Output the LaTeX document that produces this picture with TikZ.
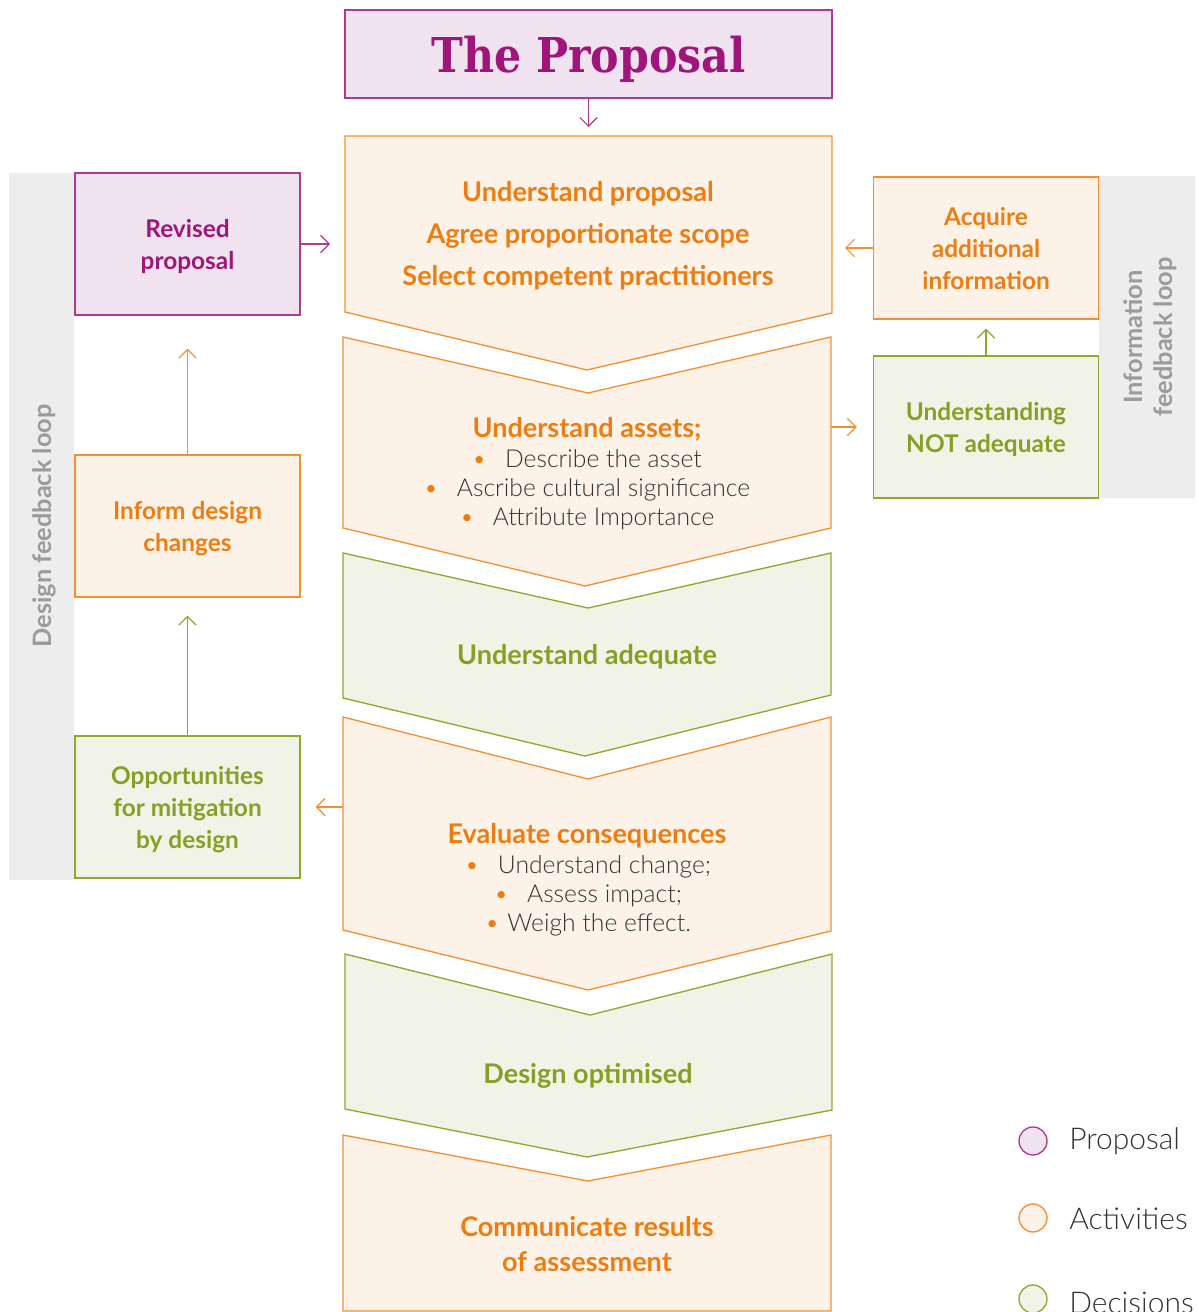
\documentclass[tikz,border=0pt]{standalone}
\usepackage{fontspec}
\setmainfont{Lato}
\newfontfamily\lightfont{Lato Light}
\newfontfamily\slabfont[FakeStretch=0.89]{DejaVu Serif}
\usetikzlibrary{arrows.meta,positioning}

\definecolor{purpline}{HTML}{AD3D8C}
\definecolor{purptext}{HTML}{A0157A}
\definecolor{purpfill}{HTML}{F0E2EF}
\definecolor{orngline}{HTML}{F39034}
\definecolor{orngtext}{HTML}{EE7D11}
\definecolor{orngfill}{HTML}{FDF2E7}
\definecolor{grnline}{HTML}{8DAA2E}
\definecolor{grntext}{HTML}{85A024}
\definecolor{grnfill}{HTML}{F1F3E7}
\definecolor{bandgrey}{HTML}{EDEDED}
\definecolor{loopgrey}{HTML}{9B9B9B}
\definecolor{bodytext}{HTML}{333333}

\begin{document}
\begin{tikzpicture}[x=0.75pt, y=-0.75pt,
	arr/.style={-{Straight Barb[length=6.5pt,width=13pt]}, line width=0.9pt},
	box/.style={line width=1pt, minimum width=168.75pt, minimum height=106.5pt,
		align=center, text depth=0pt, font=\boxfont},
	pbox/.style={box, draw=purpline, fill=purpfill, text=purptext},
	obox/.style={box, draw=orngline, fill=orngfill, text=orngtext},
	gbox/.style={box, draw=grnline, fill=grnfill, text=grntext},
	ochev/.style={draw=orngline, fill=orngfill, line width=1pt},
	gchev/.style={draw=grnline, fill=grnfill, line width=1pt},
	title/.style={font=\chevfont, align=center, inner sep=0pt},
	bullets/.style={font=\bulletfont, text=bodytext, align=center, inner sep=0pt, text depth=0pt},
	looptext/.style={font=\loopfont, text=loopgrey, rotate=90, align=center, inner sep=0pt, text depth=0pt},
	legdot/.style={circle, line width=1pt, minimum size=21pt, inner sep=0pt},
	legtext/.style={font=\legfont, text=bodytext, anchor=base west, inner sep=0pt},
]

% parameters %{{{2

	\def\boxfont{\bfseries\fontsize{18.3}{24}\selectfont}
	\def\chevfont{\bfseries\fontsize{20.3}{31.5}\selectfont}
	\def\bulletfont{\lightfont\fontsize{18.5}{21.75}\selectfont}
	\def\loopfont{\bfseries\fontsize{19}{22.5}\selectfont}
	\def\legfont{\lightfont\fontsize{22.5}{26}\selectfont}
	\def\bul{{\color{orngtext}\textbullet}}

	\useasboundingbox (0,0) rectangle (1198,1312);

% feedback bands %{{{2

	\fill[bandgrey] (9,173) rectangle (74,880);
	\fill[bandgrey] (1099,176) rectangle (1195,498);

% chevrons %{{{2

	\draw[ochev] (345,136) -- (832,136) -- (832,313) -- (587,370) -- (345,312) -- cycle;
	\draw[ochev] (343,337) -- (588,393) -- (831,337) -- (831,528) -- (585,586) -- (343,528) -- cycle;
	\draw[gchev] (343,553) -- (588,608) -- (831,553) -- (831,695) -- (585,756) -- (343,698) -- cycle;
	\draw[ochev] (343,717) -- (588,779) -- (831,717) -- (831,931) -- (588,990) -- (343,930) -- cycle;
	\draw[gchev] (345,954) -- (590,1015) -- (832,954) -- (832,1110) -- (587,1157) -- (345,1109) -- cycle;
	\draw[ochev] (343,1135) -- (588,1181) -- (831,1135) -- (831,1311) -- (343,1311) -- cycle;

% chevron edge points %{{{2

	\coordinate (c1n) at (588.5,136);
	\coordinate (c1w) at (345,244);
	\coordinate (c1e) at (832,248);
	\coordinate (c2e) at (831,427);
	\coordinate (c4w) at (343,807);

% boxes %{{{2

	\node[pbox, minimum width=365.25pt, minimum height=66pt,
		font=\slabfont\bfseries\fontsize{36}{40}\selectfont] (proposal) at (588.5,54) {The Proposal};

	\node[pbox] (rev) at (187.5,244) {Revised\\proposal};
	\node[obox] (inform) at (187.5,526) {Inform design\\changes};
	\node[gbox] (opp) at (187.5,807) {Opportunities\\for mitigation\\by design};

	\node[obox] (acq) at (986,248) {Acquire\\additional\\information};
	\node[gbox] (nadq) at (986,427) {Understanding\\NOT adequate};

% chevron texts %{{{2

	\node[title, text=orngtext, text depth=0pt] (scope) at (588,233)
		{Understand proposal\\Agree proportionate scope\\Select competent practitioners};

	\node[title, text=orngtext, anchor=base] (assets) at (587,437) {Understand assets;};
	\node[bullets] (assetlist) at (587,488)
		{\bul\hspace{14pt}Describe the asset\\
		 \bul\hspace{14pt}Ascribe cultural significance\\
		 \bul\hspace{14pt}Attribute Importance};

	\node[title, text=grntext, anchor=base] (adequate) at (587,664) {Understand adequate};

	\node[title, text=orngtext, anchor=base] (consequences) at (587,843) {Evaluate consequences};
	\node[bullets] (changelist) at (588,893.5)
		{\bul\hspace{14pt}Understand change;\\
		 \bul\hspace{14pt}Assess impact;\\
		 \bul\hspace{6pt}Weigh the effect.};

	\node[title, text=grntext, anchor=base] (optimised) at (588,1083) {Design optimised};

	\node[title, text=orngtext, text depth=0pt, font=\bfseries\fontsize{20.3}{26}\selectfont]
		(communicate) at (587,1244) {Communicate results\\of assessment};

% loop labels %{{{2

	\node[looptext] (designloop) at (42,526) {Design feedback loop};
	\node[looptext] (infoloop) at (1148,337) {Information\\feedback loop};

% connectors %{{{2

	\draw[arr, purpline, shorten >=6.75pt] (proposal.south) -- (c1n);
	\draw[arr, purpline, shorten >=11.25pt] (rev.east) -- (c1w);
	\draw[arr, orngline, shorten >=9.75pt] (acq.west) -- (c1e);
	\draw[arr, orngline, shorten >=12pt] (c2e) -- (nadq.west);
	\draw[arr, grnline, shorten >=6.75pt] (nadq.north) -- (acq.south);
	\draw[arr, orngline, shorten >=11.25pt] (c4w) -- (opp.east);
	\draw[arr, orngline, shorten >=24.75pt] (inform.north) -- (rev.south);
	\draw[arr, grnline, shorten >=13.5pt] (opp.north) -- (inform.south);

% legend %{{{2

	\node[legdot, draw=purpline, fill=purpfill] (legprop) at (1033,1141) {};
	\node[legdot, draw=orngline, fill=orngfill] (legact) at (1033,1218) {};
	\node[legdot, draw=grnline, fill=grnfill] (legdec) at (1033,1299) {};

	\node[legtext] (legproptext) at (1069,1149) {Proposal};
	\node[legtext] (legacttext) at (1069,1229) {Activities};
	\node[legtext] (legdectext) at (1069,1313) {Decisions};

% closing %{{{2

\end{tikzpicture}
\end{document}
